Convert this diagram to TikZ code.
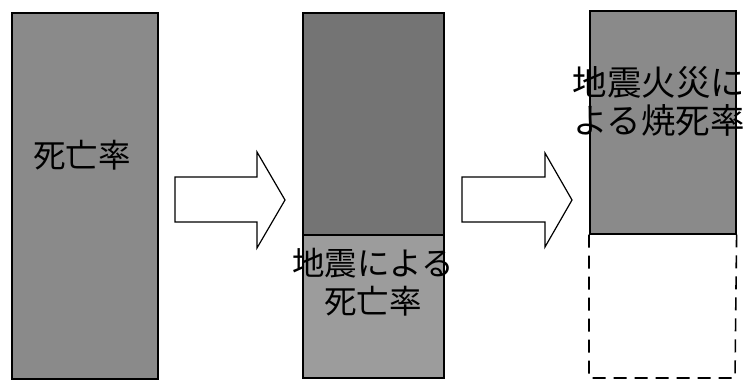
\documentclass[tikz,border=0pt]{standalone}
\usepackage{fontspec}
\newfontfamily\jp{Noto Sans CJK JP}
\definecolor{grayA}{HTML}{8A8A8A}
\definecolor{grayDark}{HTML}{747474}
\definecolor{grayLight}{HTML}{9C9C9C}
\tikzset{
  bar/.style={draw=black, line width=1.6pt, inner sep=0pt, anchor=north west},
  label/.style={font=\jp\fontsize{32.5}{38}\selectfont, align=center, text=black, inner sep=0pt},
  biglabel/.style={label, font=\jp\fontsize{34.5}{38}\selectfont},
  blockarrow/.style={draw=black, line width=1.2pt, fill=white, line join=miter},
  dashbar/.style={draw=black, line width=1.6pt, dash pattern=on 13pt off 8pt}
}
\begin{document}
\begin{tikzpicture}[x=1pt,y=-1pt]
\useasboundingbox (0,0) rectangle (746,381);
% column 1
\node[bar, fill=grayA, minimum width=146pt, minimum height=366pt] (c1) at (11,12) {};
\node[label] (t1) at (82,155) {死亡率};
% arrow 1
\draw[blockarrow] (175,177) -- (257,177) -- (257,152) -- (285,200) coordinate (a1tip) -- (257,248) -- (257,222) -- (175,222) -- cycle;
% column 2
\node[bar, fill=grayDark, minimum width=141pt, minimum height=222pt] (c2top) at (302,12) {};
\node[bar, fill=grayLight, minimum width=141pt, minimum height=143pt] (c2bot) at (302,234) {};
\node[label] (t2) at (373,282) {地震による\\死亡率};
% arrow 2
\draw[blockarrow] (462,177) -- (545,177) -- (545,153) -- (572,200) coordinate (a2tip) -- (545,247) -- (545,222) -- (462,222) -- cycle;
% column 3
\node[bar, fill=grayA, minimum width=146pt, minimum height=223pt] (c3top) at (589,10) {};
\coordinate (c3bl) at (589,378);
\coordinate (c3br) at (735,378);
\draw[dashbar] (c3top.south west) -- (c3bl) -- (c3br) -- (c3top.south east);
\node[biglabel] (t3) at (659,101) {地震火災に\\よる焼死率};
\end{tikzpicture}
\end{document}
